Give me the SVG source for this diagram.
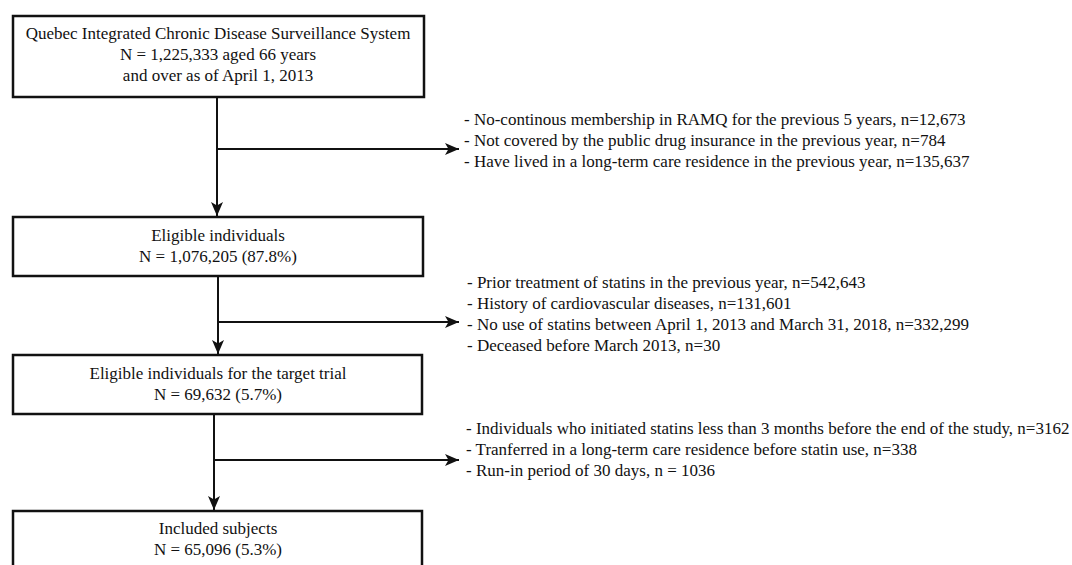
<svg xmlns="http://www.w3.org/2000/svg" width="1072" height="565" viewBox="0 0 1072 565">
<style>
.box{fill:#fff;stroke:#111;stroke-width:2.5}
.t{font-family:"Liberation Serif","Times New Roman",serif;font-size:17px;fill:#111}
.c{text-anchor:middle}
.ln{fill:none;stroke:#111;stroke-width:2}
</style>
<defs>
<marker id="ah" markerUnits="userSpaceOnUse" markerWidth="16" markerHeight="14" refX="14" refY="6" orient="auto">
<path d="M0,0 L14,6 L0,12 L3.5,6 z" fill="#111"/>
</marker>
</defs>
<rect width="1072" height="565" fill="#fff"/>
<g id="connectors">
<line class="ln" x1="217" y1="97" x2="217" y2="216" marker-end="url(#ah)"/>
<line class="ln" x1="217" y1="149" x2="459" y2="149" marker-end="url(#ah)"/>
<line class="ln" x1="218" y1="276" x2="218" y2="354" marker-end="url(#ah)"/>
<line class="ln" x1="218" y1="322" x2="459" y2="322" marker-end="url(#ah)"/>
<line class="ln" x1="214" y1="414" x2="214" y2="510" marker-end="url(#ah)"/>
<line class="ln" x1="214" y1="460" x2="459" y2="460" marker-end="url(#ah)"/>
</g>
<g id="n1">
<rect class="box" x="13" y="16" width="411" height="81"/>
<text class="t c" x="218" y="39">Quebec Integrated Chronic Disease Surveillance System</text>
<text class="t c" x="218" y="60">N = 1,225,333 aged 66 years</text>
<text class="t c" x="218" y="81">and over as of April 1, 2013</text>
</g>
<g id="n2">
<rect class="box" x="13" y="217" width="410" height="59"/>
<text class="t c" x="218" y="241">Eligible individuals</text>
<text class="t c" x="218" y="262">N = 1,076,205 (87.8%)</text>
</g>
<g id="n3">
<rect class="box" x="13" y="355" width="409" height="59"/>
<text class="t c" x="218" y="379">Eligible individuals for the target trial</text>
<text class="t c" x="218" y="400">N = 69,632 (5.7%)</text>
</g>
<g id="n4">
<rect class="box" x="13" y="511" width="409" height="80"/>
<text class="t c" x="218" y="534">Included subjects</text>
<text class="t c" x="218" y="555">N = 65,096 (5.3%)</text>
</g>
<g id="ex1">
<text class="t" x="464" y="125">- No-continous membership in RAMQ for the previous 5 years, n=12,673</text>
<text class="t" x="464" y="146">- Not covered by the public drug insurance in the previous year, n=784</text>
<text class="t" x="464" y="167">- Have lived in a long-term care residence in the previous year, n=135,637</text>
</g>
<g id="ex2">
<text class="t" x="467" y="288">- Prior treatment of statins in the previous year, n=542,643</text>
<text class="t" x="467" y="309">- History of cardiovascular diseases, n=131,601</text>
<text class="t" x="467" y="330">- No use of statins between April 1, 2013 and March 31, 2018, n=332,299</text>
<text class="t" x="467" y="351">- Deceased before March 2013, n=30</text>
</g>
<g id="ex3">
<text class="t" x="466" y="434">- Individuals who initiated statins less than 3 months before the end of the study, n=3162</text>
<text class="t" x="466" y="455">- Tranferred in a long-term care residence before statin use, n=338</text>
<text class="t" x="466" y="476">- Run-in period of 30 days, n = 1036</text>
</g>
</svg>
